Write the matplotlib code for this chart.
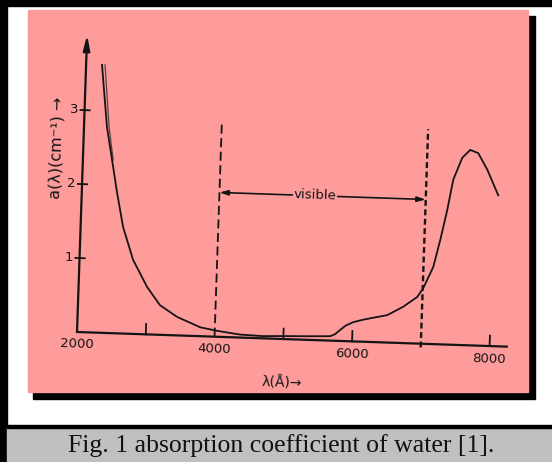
import matplotlib
matplotlib.use("Agg")
import matplotlib.pyplot as plt
from matplotlib.patches import Rectangle
from matplotlib.transforms import Affine2D

# absorption coefficient of water
wavelength = [2231, 2334, 2424, 2513, 2617, 2779, 2996, 3192, 3446, 3788, 4035,
              4371, 4700, 5000, 5400, 5680, 5750, 5823, 5900, 6007, 6120, 6252,
              6497, 6724, 6925, 7007, 7142, 7231, 7318, 7390, 7510, 7622, 7740,
              7880, 8051]
absorption = [3.62, 2.78, 2.34, 1.90, 1.44, 1.00, 0.64, 0.40, 0.25, 0.12, 0.08,
              0.04, 0.03, 0.04, 0.05, 0.06, 0.09, 0.15, 0.21, 0.26, 0.29, 0.32,
              0.37, 0.49, 0.63, 0.75, 1.04, 1.41, 1.82, 2.23, 2.53, 2.64, 2.60,
              2.38, 2.04]
# second pen stroke on the UV branch
wavelength_b = [2275, 2365, 2440]
absorption_b = [3.62, 2.78, 2.34]

x_tick_marks = [3000, 5000, 6000, 8000]
x_tick_labels = [2000, 4000, 6000, 8000]
y_ticks = [1, 2, 3]
visible_range = [4000, 7000]
dash_top = 2.9
visible_y = 1.95

W, H = 552, 462
fig = plt.figure(figsize=(W / 100, H / 100), dpi=100)
fig.patch.set_facecolor("white")

# page decoration (pixel coordinates)
bg = fig.add_axes([0, 0, 1, 1], zorder=0)
bg.set_xlim(0, W)
bg.set_ylim(H, 0)
bg.axis("off")
bg.add_patch(Rectangle((0, 0), W, 6, color="black"))
bg.add_patch(Rectangle((0, 0), 7, H, color="black"))
bg.add_patch(Rectangle((33, 16), 502, 383, color="black"))        # shadow
bg.add_patch(Rectangle((28, 10), 500, 382, color="#fe9c9c"))       # pink panel
bg.add_patch(Rectangle((7, 426), W, 36, color="#c0c0c0"))
bg.add_patch(Rectangle((7, 425), W, 3, color="black"))
bg.text(281, 446, "Fig. 1 absorption coefficient of water [1].",
        family="Liberation Serif", fontsize=18.5, ha="center", va="center",
        color="#111111")

# the chart itself
ax = fig.add_axes([0.0772, 0.2013, 0.8725, 0.7528], zorder=1)
ax.set_xlim(1500, 8500)
ax.set_ylim(-0.5, 4.2)
ax.axis("off")
ax.patch.set_visible(False)

# the scan is slightly rotated
ox, oy = ax.transData.transform((2000, 0))
tr = ax.transData + Affine2D().rotate_deg_around(ox, oy, -1.95)
ink = "#141414"

ax.plot(wavelength, absorption, color=ink, lw=1.3, transform=tr, clip_on=False)
ax.plot(wavelength_b, absorption_b, color=ink, lw=0.9, alpha=0.7,
        transform=tr, clip_on=False)

# axes
ax.plot([2000, 8250], [0, 0], color=ink, lw=1.6, transform=tr, clip_on=False)
ax.annotate("", xy=(2000, 4.02), xytext=(2000, 0), xycoords=tr, textcoords=tr,
            arrowprops=dict(arrowstyle="-|>,head_length=0.9,head_width=0.2",
                            color=ink, lw=1.6, shrinkA=0, shrinkB=0))
for xt in x_tick_marks:
    ax.plot([xt, xt], [0, 0.14], color=ink, lw=1.3, transform=tr, clip_on=False)
for xl in x_tick_labels:
    ax.text(xl, -0.17, str(xl), transform=tr, ha="center", va="center",
            fontsize=9.5, color=ink, rotation=-1.95, rotation_mode="anchor")
for yt in y_ticks:
    ax.plot([1940, 2075], [yt, yt], color=ink, lw=1.3, transform=tr, clip_on=False)
    ax.text(1850, yt, str(yt), transform=tr, ha="center", va="center",
            fontsize=9.5, color=ink)

ax.text(1620, 2.48, "a(λ)(cm⁻¹) →", transform=tr, rotation=88, ha="center",
        va="center", fontsize=11.5, color=ink, rotation_mode="anchor")
ax.text(5000, -0.6, "λ(Å)→", transform=tr, ha="center", va="center",
        fontsize=10, color=ink, rotation=-1.95, rotation_mode="anchor")

# visible band
ax.plot([visible_range[0]] * 2, [0, dash_top], color=ink, lw=1.3,
        ls=(0, (5, 2.5)), transform=tr, clip_on=False)
ax.plot([visible_range[1]] * 2, [-0.05, dash_top], color=ink, lw=1.7,
        ls=(0, (2.5, 1.5)), transform=tr, clip_on=False)
ax.annotate("", xy=(visible_range[0], visible_y), xytext=(5060, visible_y),
            xycoords=tr, textcoords=tr,
            arrowprops=dict(arrowstyle="-|>,head_length=0.5,head_width=0.15",
                            color=ink, lw=1.2, shrinkA=0, shrinkB=0))
ax.annotate("", xy=(visible_range[1], visible_y), xytext=(5720, visible_y),
            xycoords=tr, textcoords=tr,
            arrowprops=dict(arrowstyle="-|>,head_length=0.5,head_width=0.15",
                            color=ink, lw=1.2, shrinkA=0, shrinkB=0))
ax.text(5390, visible_y, "visible", transform=tr, ha="center", va="center",
        fontsize=9.5, color=ink, rotation=-1.95, rotation_mode="anchor")

fig.savefig("out.png", dpi=100)
